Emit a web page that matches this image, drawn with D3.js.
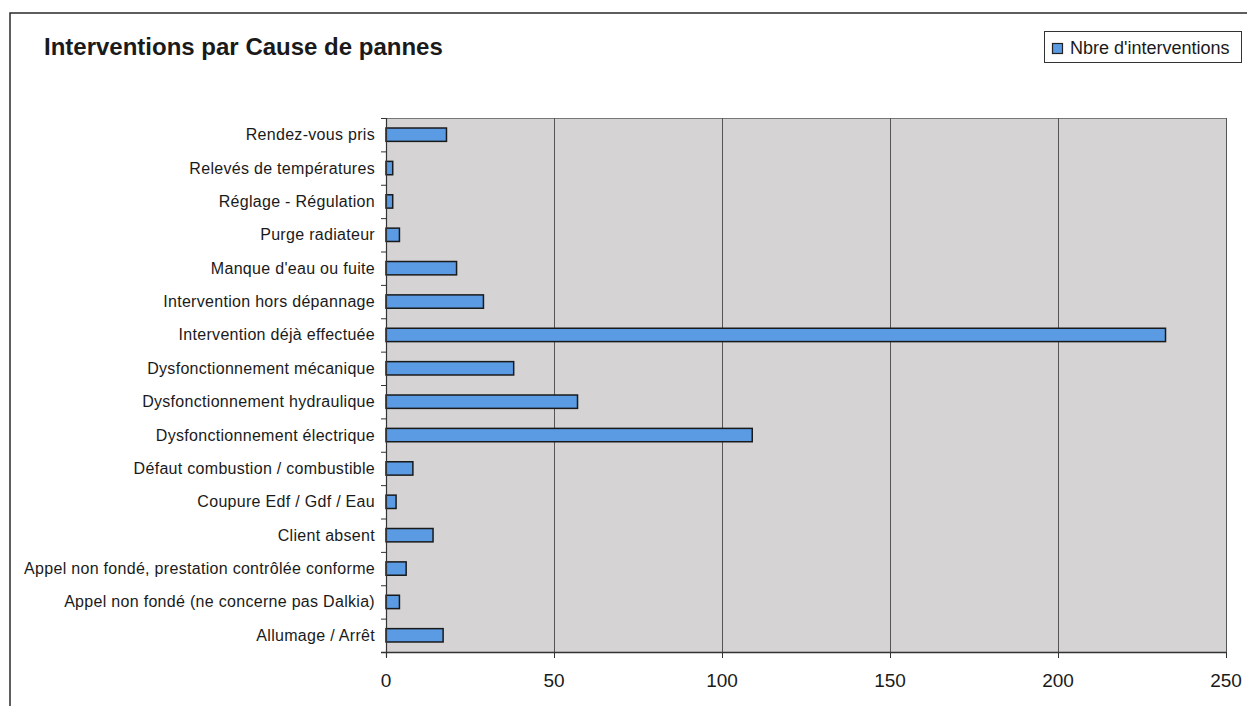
<!DOCTYPE html>
<html><head><meta charset="utf-8">
<script src="https://cdn.jsdelivr.net/npm/d3@7"></script>
<style>
html,body{margin:0;padding:0;background:#fff;}
svg{display:block;font-family:"Liberation Sans",Arial,sans-serif;}
</style></head>
<body><svg id="c" width="1247" height="706"></svg>
<script>
const categories = [
  "Rendez-vous pris",
  "Relevés de températures",
  "Réglage - Régulation",
  "Purge radiateur",
  "Manque d'eau ou fuite",
  "Intervention hors dépannage",
  "Intervention déjà effectuée",
  "Dysfonctionnement mécanique",
  "Dysfonctionnement hydraulique",
  "Dysfonctionnement électrique",
  "Défaut combustion / combustible",
  "Coupure Edf / Gdf / Eau",
  "Client absent",
  "Appel non fondé, prestation contrôlée conforme",
  "Appel non fondé (ne concerne pas Dalkia)",
  "Allumage / Arrêt"
];
const values = [18, 2, 2, 4, 21, 29, 232, 38, 57, 109, 8, 3, 14, 6, 4, 17];
const xTicks = [0, 50, 100, 150, 200, 250];
const title = "Interventions par Cause de pannes";
const seriesName = "Nbre d'interventions";

(function(){
const svg = d3.select("#c");
const pL = 386, pR = 1226, pT = 118, pB = 652;

// outer frame
svg.append("path").attr("d","M10,720 L10,13 L1260,13")
  .attr("fill","none").attr("stroke","#2a2a2a").attr("stroke-width",1.5);

// title
svg.append("text").attr("x",44).attr("y",55).attr("font-size",24).attr("font-weight","bold")
  .attr("fill","#1a1a1a").text(title);

// legend
const lg = svg.append("g");
lg.append("rect").attr("x",1044.5).attr("y",31.5).attr("width",197).attr("height",31)
  .attr("fill","#fff").attr("stroke","#333").attr("stroke-width",1);
lg.append("rect").attr("x",1052.5).attr("y",43.5).attr("width",10).attr("height",10)
  .attr("fill","#5a9be3").attr("stroke","#222").attr("stroke-width",1.2);
lg.append("text").attr("x",1070).attr("y",54).attr("font-size",18).attr("fill","#1a1a1a").text(seriesName);

const x = d3.scaleLinear().domain([0,250]).range([pL,pR]);
const y = d3.scaleBand().domain(categories).range([pT,pB]).paddingInner(0.6).paddingOuter(0.3);
const band = d3.scaleBand().domain(categories).range([pT,pB]);

// plot background
svg.append("rect").attr("x",pL).attr("y",pT).attr("width",pR-pL).attr("height",pB-pT)
  .attr("fill","#d5d3d3");
svg.append("line").attr("x1",pL).attr("x2",pR).attr("y1",pT+0.5).attr("y2",pT+0.5)
  .attr("stroke","#777").attr("stroke-width",1);

// gridlines
svg.append("g").selectAll("line").data(xTicks.filter(d=>d>0)).join("line")
  .attr("x1",d=>x(d)+0.5).attr("x2",d=>x(d)+0.5).attr("y1",pT).attr("y2",pB)
  .attr("stroke","#555").attr("stroke-width",1);

// bars
svg.append("g").selectAll("rect").data(categories).join("rect")
  .attr("x",pL).attr("y",d=>y(d))
  .attr("width",(d,i)=>x(values[i])-pL).attr("height",y.bandwidth())
  .attr("fill","#5a9be3").attr("stroke","#1a1a1a").attr("stroke-width",1.5);

// y axis
const yAxis = svg.append("g");
yAxis.append("line").attr("x1",pL+0.5).attr("x2",pL+0.5).attr("y1",pT).attr("y2",pB+5)
  .attr("stroke","#333").attr("stroke-width",1.2);
const boundaries = categories.map(c=>band(c)).concat([pB]);
yAxis.selectAll("line.t").data(boundaries).join("line").attr("class","t")
  .attr("x1",pL-5).attr("x2",pL).attr("y1",d=>d+0.5).attr("y2",d=>d+0.5)
  .attr("stroke","#333").attr("stroke-width",1);
yAxis.selectAll("text").data(categories).join("text")
  .attr("x",375).attr("y",d=>band(d)+band.bandwidth()/2+5.5)
  .attr("text-anchor","end").attr("font-size",16).attr("letter-spacing","0.3px")
  .attr("fill","#1a1a1a").text(d=>d);

// x axis
const xAxis = svg.append("g");
xAxis.append("line").attr("x1",pL-5).attr("x2",pR).attr("y1",pB+0.5).attr("y2",pB+0.5)
  .attr("stroke","#333").attr("stroke-width",1.5);
xAxis.selectAll("line.t").data(xTicks).join("line").attr("class","t")
  .attr("x1",d=>x(d)+0.5).attr("x2",d=>x(d)+0.5).attr("y1",pB).attr("y2",pB+6)
  .attr("stroke","#333").attr("stroke-width",1);
xAxis.selectAll("text").data(xTicks).join("text")
  .attr("x",d=>x(d)).attr("y",687).attr("text-anchor","middle")
  .attr("font-size",19).attr("fill","#1a1a1a").text(d=>d);
})();
</script></body></html>
